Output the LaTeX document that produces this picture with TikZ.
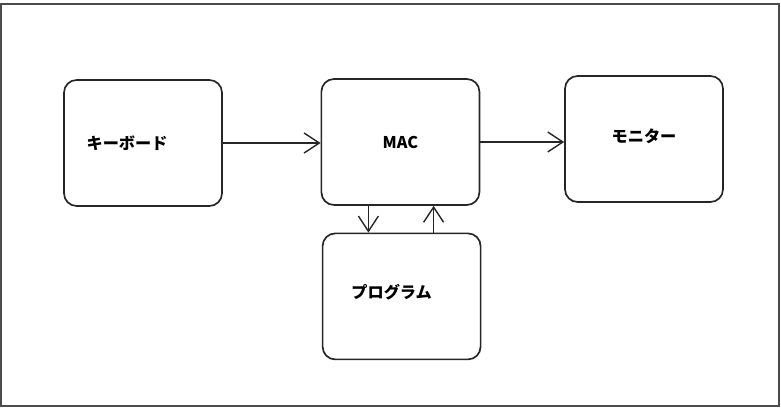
\documentclass[tikz,border=0pt]{standalone}
\usepackage{fontspec}
\setmainfont{Noto Sans CJK JP}
\usetikzlibrary{arrows.meta}

\begin{document}
\begin{tikzpicture}[
  unit/.style={
    draw=black!85,
    line width=1.2pt,
    rounded corners=9pt,
    minimum width=3.95cm,
    minimum height=3.15cm,
    font=\bfseries\fontsize{11.5}{13}\selectfont
  },
  tag/.style={font=\bfseries\fontsize{11.5}{13}\selectfont},
  flow/.style={
    draw=black!85,
    line width=1pt,
    -{Straight Barb[length=0.38cm,width=0.5cm]}
  }
]
\useasboundingbox (0,0) rectangle (19.525,-10.2);

% -------- Frame --------
\draw[black!70, line width=1pt] (0.025,-0.1) rectangle (19.475,-10.15);

% -------- Units --------
\node[unit, label={[tag, xshift=-0.4cm]center:キーボード}] (kbd) at (3.575,-3.575) {};
\node[unit] (mac) at (10.01,-3.55) {MAC};
\node[unit, label={[tag, yshift=0.08cm]center:モニター}] (mon) at (16.1,-3.475) {};
\node[unit, label={[tag, xshift=-0.25cm, yshift=0.1cm]center:プログラム}] (prog) at (10.04,-7.41) {};

% -------- Connectors --------
\draw[flow] (kbd.east) -- (kbd.east -| mac.west);
\draw[flow] (mac.east) -- (mac.east -| mon.west);
\draw[flow] ([xshift=-0.8cm]mac.south) -- ([xshift=-0.8cm]mac.south |- prog.north);
\draw[flow] ([xshift=0.8cm]prog.north) -- ([xshift=0.8cm]prog.north |- mac.south);

\end{tikzpicture}
\end{document}
